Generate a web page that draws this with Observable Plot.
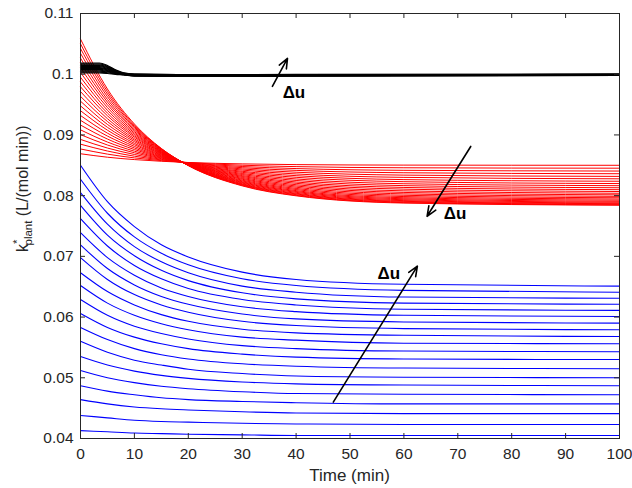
<!DOCTYPE html>
<html>
<head>
<meta charset="utf-8">
<script src="https://cdn.jsdelivr.net/npm/d3@7"></script>
<script src="https://cdn.jsdelivr.net/npm/@observablehq/plot@0.6"></script>
<style>
  html, body { margin: 0; padding: 0; background: #fff; }
  #chart { width: 632px; height: 488px; }
</style>
</head>
<body>
<div id="chart"></div>
<script>
// Sample times (min) shared by the red and blue response families
const curveTimes = [0, 5, 10, 15, 20, 30, 40, 60, 100];
// Sample times (min) for the black family
const blackTimes = [0, 3.5, 5, 6.5, 8, 10, 20, 40, 100];

// k*_plant (L/(mol min)) for each black response
const blackCurves = [
  [0.10020, 0.10020, 0.10012, 0.09998, 0.09988, 0.09970, 0.09962, 0.09968, 0.09980],
  [0.10035, 0.10035, 0.10024, 0.10005, 0.09991, 0.09973, 0.09965, 0.09971, 0.09982],
  [0.10050, 0.10050, 0.10036, 0.10012, 0.09994, 0.09976, 0.09968, 0.09973, 0.09984],
  [0.10065, 0.10065, 0.10048, 0.10018, 0.09997, 0.09979, 0.09971, 0.09976, 0.09986],
  [0.10080, 0.10080, 0.10060, 0.10025, 0.10000, 0.09982, 0.09974, 0.09978, 0.09988],
  [0.10095, 0.10095, 0.10072, 0.10032, 0.10003, 0.09985, 0.09977, 0.09981, 0.09990],
  [0.10110, 0.10110, 0.10084, 0.10039, 0.10006, 0.09988, 0.09980, 0.09983, 0.09992],
  [0.10125, 0.10125, 0.10096, 0.10045, 0.10009, 0.09991, 0.09983, 0.09986, 0.09994],
  [0.10140, 0.10140, 0.10108, 0.10052, 0.10012, 0.09994, 0.09986, 0.09988, 0.09996],
  [0.10155, 0.10155, 0.10120, 0.10059, 0.10015, 0.09997, 0.09989, 0.09991, 0.09998],
  [0.10170, 0.10170, 0.10132, 0.10066, 0.10018, 0.10000, 0.09992, 0.09993, 0.10000],
  [0.10185, 0.10185, 0.10144, 0.10072, 0.10021, 0.10003, 0.09995, 0.09996, 0.10002]
];

// k*_plant for each red response (they cross near t = 19 min)
const redCurves = [
  [0.08690, 0.08633, 0.08594, 0.08566, 0.08546, 0.08523, 0.08511, 0.08503, 0.08500],
  [0.08769, 0.08684, 0.08622, 0.08577, 0.08544, 0.08501, 0.08478, 0.08459, 0.08452],
  [0.08848, 0.08735, 0.08650, 0.08588, 0.08541, 0.08480, 0.08446, 0.08417, 0.08405],
  [0.08926, 0.08784, 0.08678, 0.08598, 0.08538, 0.08460, 0.08416, 0.08377, 0.08361],
  [0.09005, 0.08834, 0.08706, 0.08609, 0.08536, 0.08440, 0.08386, 0.08338, 0.08317],
  [0.09084, 0.08883, 0.08732, 0.08619, 0.08533, 0.08421, 0.08357, 0.08301, 0.08277],
  [0.09163, 0.08932, 0.08759, 0.08629, 0.08530, 0.08401, 0.08329, 0.08264, 0.08237],
  [0.09241, 0.08981, 0.08785, 0.08639, 0.08528, 0.08384, 0.08302, 0.08230, 0.08199],
  [0.09320, 0.09029, 0.08811, 0.08648, 0.08525, 0.08365, 0.08275, 0.08196, 0.08164],
  [0.09399, 0.09078, 0.08838, 0.08658, 0.08523, 0.08348, 0.08250, 0.08165, 0.08130],
  [0.09478, 0.09125, 0.08862, 0.08667, 0.08520, 0.08331, 0.08225, 0.08135, 0.08098],
  [0.09556, 0.09173, 0.08889, 0.08677, 0.08519, 0.08316, 0.08203, 0.08107, 0.08068],
  [0.09635, 0.09221, 0.08913, 0.08686, 0.08518, 0.08300, 0.08180, 0.08079, 0.08039],
  [0.09714, 0.09267, 0.08937, 0.08694, 0.08514, 0.08284, 0.08159, 0.08053, 0.08013],
  [0.09793, 0.09315, 0.08963, 0.08704, 0.08514, 0.08270, 0.08139, 0.08029, 0.07988],
  [0.09871, 0.09359, 0.08985, 0.08712, 0.08510, 0.08255, 0.08119, 0.08006, 0.07965],
  [0.09950, 0.09405, 0.09009, 0.08720, 0.08509, 0.08242, 0.08101, 0.07985, 0.07944],
  [0.10029, 0.09451, 0.09032, 0.08726, 0.08506, 0.08229, 0.08083, 0.07966, 0.07925],
  [0.10108, 0.09497, 0.09055, 0.08735, 0.08505, 0.08218, 0.08068, 0.07949, 0.07907],
  [0.10186, 0.09541, 0.09079, 0.08743, 0.08505, 0.08207, 0.08054, 0.07933, 0.07892],
  [0.10265, 0.09584, 0.09099, 0.08750, 0.08501, 0.08195, 0.08039, 0.07918, 0.07878],
  [0.10344, 0.09630, 0.09121, 0.08759, 0.08501, 0.08186, 0.08028, 0.07906, 0.07867],
  [0.10423, 0.09673, 0.09141, 0.08766, 0.08499, 0.08178, 0.08016, 0.07895, 0.07857],
  [0.10501, 0.09715, 0.09160, 0.08773, 0.08496, 0.08169, 0.08005, 0.07885, 0.07848],
  [0.10580, 0.09756, 0.09180, 0.08777, 0.08495, 0.08161, 0.07997, 0.07878, 0.07842]
];

// k*_plant for each blue response
const blueCurves = [
  [0.0850, 0.0790, 0.0749, 0.0719, 0.0699, 0.0674, 0.0662, 0.0654, 0.0651],
  [0.0827, 0.0771, 0.0732, 0.0705, 0.0686, 0.0663, 0.0652, 0.0644, 0.0641],
  [0.0805, 0.0753, 0.0716, 0.0691, 0.0673, 0.0651, 0.0641, 0.0633, 0.0631],
  [0.0784, 0.0735, 0.0701, 0.0677, 0.0660, 0.0640, 0.0630, 0.0623, 0.0621],
  [0.0762, 0.0717, 0.0685, 0.0663, 0.0647, 0.0629, 0.0620, 0.0613, 0.0611],
  [0.0739, 0.0698, 0.0669, 0.0648, 0.0634, 0.0617, 0.0609, 0.0603, 0.0601],
  [0.0719, 0.0680, 0.0653, 0.0634, 0.0621, 0.0605, 0.0597, 0.0592, 0.0590],
  [0.0698, 0.0662, 0.0637, 0.0620, 0.0608, 0.0593, 0.0586, 0.0581, 0.0579],
  [0.0673, 0.0642, 0.0620, 0.0604, 0.0593, 0.0580, 0.0574, 0.0570, 0.0568],
  [0.0652, 0.0623, 0.0603, 0.0589, 0.0579, 0.0567, 0.0562, 0.0557, 0.0556],
  [0.0629, 0.0603, 0.0585, 0.0573, 0.0564, 0.0553, 0.0548, 0.0544, 0.0543],
  [0.0606, 0.0583, 0.0567, 0.0556, 0.0548, 0.0539, 0.0534, 0.0531, 0.0530],
  [0.0583, 0.0563, 0.0548, 0.0538, 0.0531, 0.0523, 0.0519, 0.0516, 0.0515],
  [0.0560, 0.0542, 0.0529, 0.0521, 0.0514, 0.0507, 0.0503, 0.0501, 0.0500],
  [0.0535, 0.0521, 0.0511, 0.0504, 0.0499, 0.0493, 0.0490, 0.0488, 0.0487],
  [0.0512, 0.0500, 0.0492, 0.0486, 0.0482, 0.0477, 0.0474, 0.0473, 0.0472],
  [0.0487, 0.0478, 0.0472, 0.0467, 0.0464, 0.0461, 0.0459, 0.0457, 0.0457],
  [0.0464, 0.0457, 0.0452, 0.0449, 0.0447, 0.0444, 0.0442, 0.0441, 0.0441],
  [0.0438, 0.0434, 0.0430, 0.0428, 0.0427, 0.0425, 0.0424, 0.0423, 0.0423],
  [0.0413, 0.0411, 0.0409, 0.0408, 0.0407, 0.0406, 0.0405, 0.0405, 0.0405]
];

// Axis ticks
const xTicks = [0, 10, 20, 30, 40, 50, 60, 70, 80, 90, 100];
const yTicks = [0.04, 0.05, 0.06, 0.07, 0.08, 0.09, 0.10, 0.11];

// Δu annotations: arrow tail, arrow tip and label position (t, k)
const arrowFrom = [[35.6, 0.0980], [72.4, 0.0881], [46.9, 0.0460]];
const arrowTo = [[38.4, 0.1026], [64.3, 0.0766], [62.5, 0.0684]];
const arrowLabelAt = [[39.6, 0.0970], [69.5, 0.0770], [57.2, 0.0672]];
const arrowLabel = "Δu";

const toRows = (curves, times, family) =>
  curves.flatMap((vals, i) => vals.map((k, j) => ({family, id: family + i, t: times[j], k})));

const blackRows = toRows(blackCurves, blackTimes, "black");
const redRows = toRows(redCurves, curveTimes, "red");
const blueRows = toRows(blueCurves, curveTimes, "blue");

const arrows = arrowFrom.map((a, i) => ({x1: a[0], y1: a[1], x2: arrowTo[i][0], y2: arrowTo[i][1]}));
const labels = arrowLabelAt.map(([t, k]) => ({t, k, text: arrowLabel}));

const axisColor = "#262626";
const fmt = d => String(+d.toFixed(2));

// Plot area: 539 px wide, 425 px tall; inward ticks are 5 px long
const W = 632, H = 488, mL = 80, mR = 13, mT = 13, mB = 50;
const innerW = W - mL - mR, innerH = H - mT - mB, tickLen = 5;

const chart = Plot.plot({
  width: W,
  height: H,
  marginLeft: mL,
  marginRight: mR,
  marginTop: mT,
  marginBottom: mB,
  style: {fontFamily: "'Liberation Sans', Arial, sans-serif", fontSize: "15.5px", color: axisColor, background: "#fff"},
  x: {domain: [0, 100]},
  y: {domain: [0.04, 0.11]},
  marks: [
    Plot.line(blueRows, {x: "t", y: "k", z: "id", stroke: "#0000ff", strokeWidth: 1.1, curve: "monotone-x"}),
    Plot.line(redRows, {x: "t", y: "k", z: "id", stroke: "#ff0000", strokeWidth: 1, curve: "monotone-x"}),
    Plot.line(blackRows, {x: "t", y: "k", z: "id", stroke: "#000000", strokeWidth: 1.2, curve: "monotone-x"}),
    Plot.arrow(arrows, {x1: "x1", y1: "y1", x2: "x2", y2: "y2", stroke: "#000", strokeWidth: 1.6, headLength: 10, headAngle: 45}),
    Plot.text(labels, {x: "t", y: "k", text: "text", fontWeight: "bold", fontSize: 17, fill: "#000", textAnchor: "middle"}),
    Plot.frame({stroke: axisColor}),
    // inward tick marks on all four sides
    Plot.tickX(xTicks, {x: d => d, insetTop: innerH - tickLen, stroke: axisColor}),
    Plot.tickX(xTicks, {x: d => d, insetBottom: innerH - tickLen, stroke: axisColor}),
    Plot.tickY(yTicks, {y: d => d, insetRight: innerW - tickLen, stroke: axisColor}),
    Plot.tickY(yTicks, {y: d => d, insetLeft: innerW - tickLen, stroke: axisColor}),
    Plot.axisX({anchor: "bottom", ticks: xTicks, tickSize: 0, tickPadding: 9, tickFormat: fmt, label: null}),
    Plot.axisY({anchor: "left", ticks: yTicks, tickSize: 0, tickPadding: 7, tickFormat: fmt, label: null})
  ]
});

document.getElementById("chart").appendChild(chart);

// Axis titles
const svg = d3.select(chart);
svg.append("text")
  .attr("x", 349.5)
  .attr("y", 481)
  .attr("text-anchor", "middle")
  .attr("font-size", 17)
  .attr("fill", axisColor)
  .text("Time (min)");

const yTitle = svg.append("text")
  .attr("transform", "translate(28,252) rotate(-90)")
  .attr("text-anchor", "start")
  .attr("font-size", 16)
  .attr("fill", axisColor);
yTitle.append("tspan").text("k");
yTitle.append("tspan").attr("dy", -7).attr("font-size", 11.5).text("*");
yTitle.append("tspan").attr("dx", -6).attr("dy", 11).attr("font-size", 11.5).text("plant");
yTitle.append("tspan").attr("dy", -4).text(" (L/(mol min))");
</script>
</body>
</html>
